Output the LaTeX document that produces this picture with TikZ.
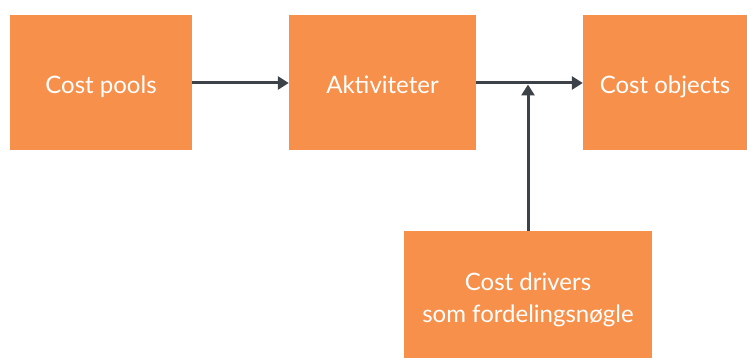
\documentclass[tikz,border=0pt]{standalone}
\usepackage{fontspec}
\setmainfont{Lato}
\usetikzlibrary{arrows.meta}
\definecolor{boxorange}{HTML}{F7904A}
\definecolor{arrowgray}{HTML}{3C4247}
\begin{document}
\begin{tikzpicture}[x=1pt,y=-1pt,
  boxtext/.style={text=white,align=center,font=\fontsize{24}{32}\selectfont},
  box/.style={fill=boxorange,draw=none,inner sep=0pt,boxtext,text height=26pt,text depth=3pt},
  conn/.style={draw=arrowgray,line width=3pt,-{Triangle[length=11pt,width=13pt]}}]
\useasboundingbox (0,0) rectangle (747,358);
\node[box,minimum width=182pt,minimum height=135pt] (cp) at (101,82.5) {Cost pools};
\node[box,minimum width=187pt,minimum height=135pt] (akt) at (382.5,82.5) {Aktiviteter};
\node[box,minimum width=164pt,minimum height=135pt] (co) at (665,82.5) {Cost objects};
\node[fill=boxorange,draw=none,inner sep=0pt,minimum width=248pt,minimum height=127pt,
  label={[boxtext,yshift=-5pt]center:{Cost drivers\\som fordelingsnøgle}}] (cd) at (528,294.5) {};
\coordinate (j) at (528,84.5);
\draw[conn] (cp.east |- 0,83) -- (akt.west |- 0,83);
\draw[conn] (akt.east |- 0,83) -- (co.west |- 0,83);
\draw[conn] (cd.north) -- (j);
\end{tikzpicture}
\end{document}
